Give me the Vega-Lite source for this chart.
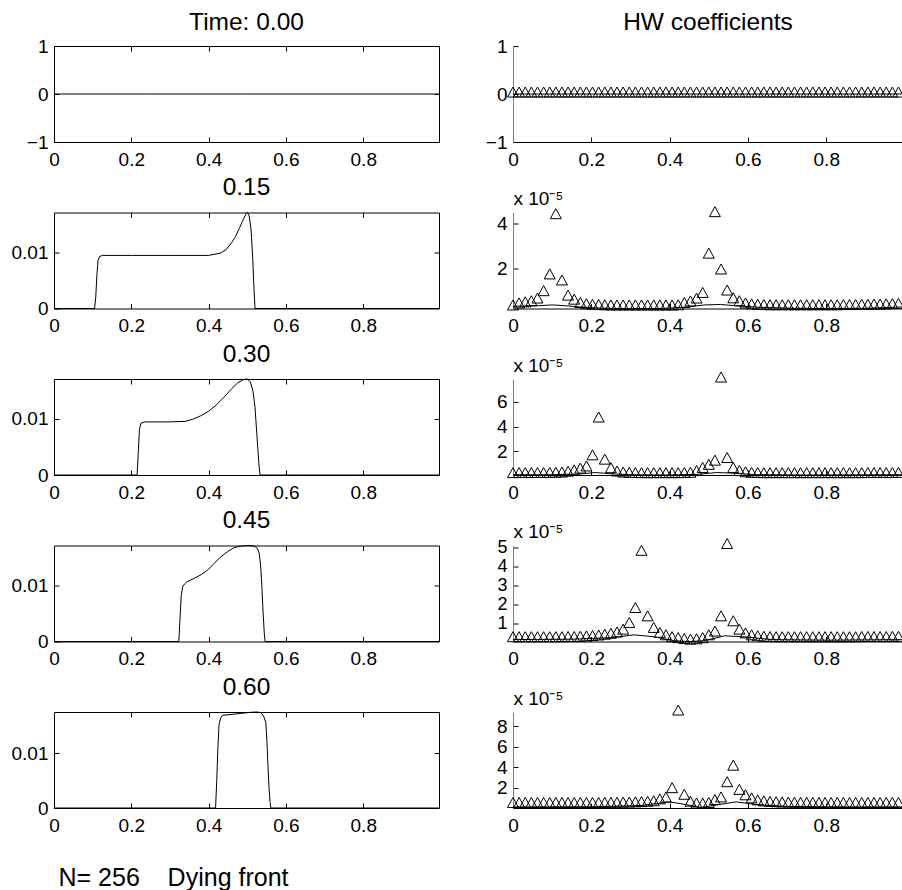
{
 "$schema": "https://vega.github.io/schema/vega-lite/v6.json",
 "padding": {"left": 10, "top": 9, "right": 0, "bottom": 0},
 "title": {"text": "N= 256\u00a0\u00a0\u00a0\u00a0Dying front", "orient": "bottom", "anchor": "start", "frame": "bounds", "fontSize": 25, "offset": 30, "dx": 48, "baseline": "top"},
 "datasets": {
  "u": [
   {"t":"0.00","x":0,"u":0},{"t":"0.00","x":0.25,"u":0},{"t":"0.00","x":0.5,"u":0},{"t":"0.00","x":0.75,"u":0},{"t":"0.00","x":0.996,"u":0},
   {"t":"0.15","x":0,"u":0},{"t":"0.15","x":0.105,"u":0},{"t":"0.15","x":0.108,"u":0.002},{"t":"0.15","x":0.111,"u":0.006},{"t":"0.15","x":0.114,"u":0.0085},{"t":"0.15","x":0.118,"u":0.0092},{"t":"0.15","x":0.125,"u":0.0094},{"t":"0.15","x":0.2,"u":0.0094},{"t":"0.15","x":0.3,"u":0.0094},{"t":"0.15","x":0.4,"u":0.0094},{"t":"0.15","x":0.43,"u":0.0098},{"t":"0.15","x":0.445,"u":0.0104},{"t":"0.15","x":0.46,"u":0.0117},{"t":"0.15","x":0.47,"u":0.0128},{"t":"0.15","x":0.48,"u":0.0143},{"t":"0.15","x":0.49,"u":0.0158},{"t":"0.15","x":0.497,"u":0.0168},{"t":"0.15","x":0.501,"u":0.017},{"t":"0.15","x":0.505,"u":0.0164},{"t":"0.15","x":0.51,"u":0.0138},{"t":"0.15","x":0.514,"u":0.009},{"t":"0.15","x":0.517,"u":0.004},{"t":"0.15","x":0.52,"u":0},{"t":"0.15","x":0.6,"u":0},{"t":"0.15","x":0.996,"u":0},
   {"t":"0.30","x":0,"u":0},{"t":"0.30","x":0.215,"u":0},{"t":"0.30","x":0.218,"u":0.004},{"t":"0.30","x":0.221,"u":0.008},{"t":"0.30","x":0.225,"u":0.0092},{"t":"0.30","x":0.235,"u":0.0094},{"t":"0.30","x":0.3,"u":0.0094},{"t":"0.30","x":0.34,"u":0.0095},{"t":"0.30","x":0.36,"u":0.0099},{"t":"0.30","x":0.38,"u":0.0105},{"t":"0.30","x":0.4,"u":0.0113},{"t":"0.30","x":0.42,"u":0.0124},{"t":"0.30","x":0.44,"u":0.0138},{"t":"0.30","x":0.46,"u":0.0153},{"t":"0.30","x":0.475,"u":0.0163},{"t":"0.30","x":0.49,"u":0.0169},{"t":"0.30","x":0.5,"u":0.017},{"t":"0.30","x":0.508,"u":0.0165},{"t":"0.30","x":0.515,"u":0.0148},{"t":"0.30","x":0.52,"u":0.012},{"t":"0.30","x":0.525,"u":0.007},{"t":"0.30","x":0.53,"u":0.002},{"t":"0.30","x":0.533,"u":0},{"t":"0.30","x":0.996,"u":0},
   {"t":"0.45","x":0,"u":0},{"t":"0.45","x":0.323,"u":0},{"t":"0.45","x":0.326,"u":0.004},{"t":"0.45","x":0.329,"u":0.008},{"t":"0.45","x":0.333,"u":0.0097},{"t":"0.45","x":0.338,"u":0.0102},{"t":"0.45","x":0.345,"u":0.0106},{"t":"0.45","x":0.36,"u":0.0111},{"t":"0.45","x":0.38,"u":0.0118},{"t":"0.45","x":0.4,"u":0.0128},{"t":"0.45","x":0.414,"u":0.0138},{"t":"0.45","x":0.43,"u":0.0149},{"t":"0.45","x":0.449,"u":0.0159},{"t":"0.45","x":0.465,"u":0.0166},{"t":"0.45","x":0.483,"u":0.0169},{"t":"0.45","x":0.5,"u":0.017},{"t":"0.45","x":0.518,"u":0.0169},{"t":"0.45","x":0.526,"u":0.0165},{"t":"0.45","x":0.531,"u":0.0156},{"t":"0.45","x":0.535,"u":0.013},{"t":"0.45","x":0.538,"u":0.0095},{"t":"0.45","x":0.541,"u":0.005},{"t":"0.45","x":0.544,"u":0.0015},{"t":"0.45","x":0.546,"u":0},{"t":"0.45","x":0.996,"u":0},
   {"t":"0.60","x":0,"u":0},{"t":"0.60","x":0.418,"u":0},{"t":"0.60","x":0.421,"u":0.005},{"t":"0.60","x":0.424,"u":0.011},{"t":"0.60","x":0.427,"u":0.0152},{"t":"0.60","x":0.431,"u":0.0164},{"t":"0.60","x":0.436,"u":0.0169},{"t":"0.60","x":0.45,"u":0.017},{"t":"0.60","x":0.466,"u":0.0171},{"t":"0.60","x":0.49,"u":0.0173},{"t":"0.60","x":0.509,"u":0.01745},{"t":"0.60","x":0.525,"u":0.0175},{"t":"0.60","x":0.535,"u":0.0174},{"t":"0.60","x":0.542,"u":0.0168},{"t":"0.60","x":0.548,"u":0.0156},{"t":"0.60","x":0.551,"u":0.012},{"t":"0.60","x":0.553,"u":0.0085},{"t":"0.60","x":0.556,"u":0.004},{"t":"0.60","x":0.559,"u":0.001},{"t":"0.60","x":0.561,"u":0},{"t":"0.60","x":0.996,"u":0}
  ],
  "hw": [
   {"x":0,"c0":0,"c15":0.27,"c30":0.13,"c45":0.2,"c60":0.35},
   {"x":0.0156,"c0":0,"c15":0.36,"c30":0.14,"c45":0.2,"c60":0.35},
   {"x":0.0313,"c0":0,"c15":0.41,"c30":0.14,"c45":0.2,"c60":0.35},
   {"x":0.0469,"c0":0,"c15":0.46,"c30":0.14,"c45":0.2,"c60":0.35},
   {"x":0.0625,"c0":0,"c15":0.58,"c30":0.14,"c45":0.2,"c60":0.35},
   {"x":0.0781,"c0":0,"c15":0.91,"c30":0.14,"c45":0.2,"c60":0.35},
   {"x":0.0938,"c0":0,"c15":1.66,"c30":0.15,"c45":0.2,"c60":0.35},
   {"x":0.1094,"c0":0,"c15":4.36,"c30":0.16,"c45":0.2,"c60":0.35},
   {"x":0.125,"c0":0,"c15":1.39,"c30":0.18,"c45":0.2,"c60":0.35},
   {"x":0.1406,"c0":0,"c15":0.71,"c30":0.25,"c45":0.21,"c60":0.35},
   {"x":0.1563,"c0":0,"c15":0.53,"c30":0.35,"c45":0.21,"c60":0.35},
   {"x":0.1719,"c0":0,"c15":0.38,"c30":0.5,"c45":0.22,"c60":0.35},
   {"x":0.1875,"c0":0,"c15":0.33,"c30":0.67,"c45":0.24,"c60":0.35},
   {"x":0.2031,"c0":0,"c15":0.3,"c30":1.57,"c45":0.26,"c60":0.35},
   {"x":0.2188,"c0":0,"c15":0.29,"c30":4.62,"c45":0.29,"c60":0.35},
   {"x":0.2344,"c0":0,"c15":0.28,"c30":1.22,"c45":0.33,"c60":0.36},
   {"x":0.25,"c0":0,"c15":0.27,"c30":0.53,"c45":0.38,"c60":0.36},
   {"x":0.2656,"c0":0,"c15":0.27,"c30":0.26,"c45":0.45,"c60":0.37},
   {"x":0.2813,"c0":0,"c15":0.27,"c30":0.18,"c45":0.6,"c60":0.38},
   {"x":0.2969,"c0":0,"c15":0.27,"c30":0.15,"c45":0.95,"c60":0.39},
   {"x":0.3125,"c0":0,"c15":0.27,"c30":0.14,"c45":1.74,"c60":0.41},
   {"x":0.3281,"c0":0,"c15":0.27,"c30":0.13,"c45":4.76,"c60":0.43},
   {"x":0.3438,"c0":0,"c15":0.27,"c30":0.13,"c45":1.3,"c60":0.47},
   {"x":0.3594,"c0":0,"c15":0.27,"c30":0.13,"c45":0.69,"c60":0.52},
   {"x":0.375,"c0":0,"c15":0.27,"c30":0.13,"c45":0.43,"c60":0.7},
   {"x":0.3906,"c0":0,"c15":0.27,"c30":0.13,"c45":0.3,"c60":0.87},
   {"x":0.4063,"c0":0,"c15":0.27,"c30":0.13,"c45":0.2,"c60":1.8},
   {"x":0.4219,"c0":0,"c15":0.28,"c30":0.13,"c45":0.15,"c60":9.4},
   {"x":0.4375,"c0":0,"c15":0.38,"c30":0.14,"c45":0.1,"c60":1.15},
   {"x":0.4531,"c0":0,"c15":0.45,"c30":0.16,"c45":0.07,"c60":0.47},
   {"x":0.4688,"c0":0,"c15":0.58,"c30":0.3,"c45":0.09,"c60":0.3},
   {"x":0.4844,"c0":0,"c15":0.83,"c30":0.55,"c45":0.15,"c60":0.28},
   {"x":0.5,"c0":0,"c15":2.59,"c30":0.8,"c45":0.3,"c60":0.35},
   {"x":0.5156,"c0":0,"c15":4.45,"c30":1.14,"c45":0.5,"c60":0.63},
   {"x":0.5313,"c0":0,"c15":1.88,"c30":7.85,"c45":1.3,"c60":0.89},
   {"x":0.5469,"c0":0,"c15":0.94,"c30":1.35,"c45":5.12,"c60":2.38},
   {"x":0.5625,"c0":0,"c15":0.59,"c30":0.55,"c45":1.04,"c60":4.0},
   {"x":0.5781,"c0":0,"c15":0.46,"c30":0.3,"c45":0.6,"c60":1.63},
   {"x":0.5938,"c0":0,"c15":0.36,"c30":0.2,"c45":0.4,"c60":1.1},
   {"x":0.6094,"c0":0,"c15":0.32,"c30":0.16,"c45":0.3,"c60":0.8},
   {"x":0.625,"c0":0,"c15":0.3,"c30":0.14,"c45":0.25,"c60":0.6},
   {"x":0.6406,"c0":0,"c15":0.29,"c30":0.13,"c45":0.22,"c60":0.5},
   {"x":0.6563,"c0":0,"c15":0.28,"c30":0.13,"c45":0.21,"c60":0.45},
   {"x":0.6719,"c0":0,"c15":0.28,"c30":0.13,"c45":0.2,"c60":0.42},
   {"x":0.6875,"c0":0,"c15":0.28,"c30":0.13,"c45":0.2,"c60":0.4},
   {"x":0.7031,"c0":0,"c15":0.28,"c30":0.13,"c45":0.2,"c60":0.38},
   {"x":0.7188,"c0":0,"c15":0.28,"c30":0.13,"c45":0.2,"c60":0.37},
   {"x":0.7344,"c0":0,"c15":0.28,"c30":0.13,"c45":0.2,"c60":0.36},
   {"x":0.75,"c0":0,"c15":0.28,"c30":0.13,"c45":0.2,"c60":0.36},
   {"x":0.7656,"c0":0,"c15":0.28,"c30":0.13,"c45":0.2,"c60":0.35},
   {"x":0.7813,"c0":0,"c15":0.28,"c30":0.13,"c45":0.2,"c60":0.35},
   {"x":0.7969,"c0":0,"c15":0.28,"c30":0.13,"c45":0.2,"c60":0.35},
   {"x":0.8125,"c0":0,"c15":0.28,"c30":0.13,"c45":0.2,"c60":0.35},
   {"x":0.8281,"c0":0,"c15":0.28,"c30":0.13,"c45":0.2,"c60":0.35},
   {"x":0.8438,"c0":0,"c15":0.29,"c30":0.13,"c45":0.2,"c60":0.35},
   {"x":0.8594,"c0":0,"c15":0.29,"c30":0.13,"c45":0.2,"c60":0.35},
   {"x":0.875,"c0":0,"c15":0.29,"c30":0.13,"c45":0.2,"c60":0.35},
   {"x":0.8906,"c0":0,"c15":0.3,"c30":0.13,"c45":0.21,"c60":0.35},
   {"x":0.9063,"c0":0,"c15":0.3,"c30":0.14,"c45":0.21,"c60":0.35},
   {"x":0.9219,"c0":0,"c15":0.31,"c30":0.14,"c45":0.21,"c60":0.35},
   {"x":0.9375,"c0":0,"c15":0.31,"c30":0.14,"c45":0.21,"c60":0.35},
   {"x":0.9531,"c0":0,"c15":0.32,"c30":0.14,"c45":0.21,"c60":0.36},
   {"x":0.9688,"c0":0,"c15":0.33,"c30":0.14,"c45":0.22,"c60":0.36},
   {"x":0.9844,"c0":0,"c15":0.34,"c30":0.15,"c45":0.22,"c60":0.36}
  ],
  "hwline": [
   {"t":"0.00","x":0,"c":0},{"t":"0.00","x":0.996,"c":0},
   {"t":"0.15","x":0,"c":0.3},{"t":"0.15","x":0.06,"c":0.32},{"t":"0.15","x":0.1,"c":0.36},{"t":"0.15","x":0.13,"c":0.33},{"t":"0.15","x":0.17,"c":0.27},{"t":"0.15","x":0.22,"c":0.22},{"t":"0.15","x":0.3,"c":0.19},{"t":"0.15","x":0.38,"c":0.2},{"t":"0.15","x":0.44,"c":0.26},{"t":"0.15","x":0.49,"c":0.36},{"t":"0.15","x":0.53,"c":0.38},{"t":"0.15","x":0.57,"c":0.32},{"t":"0.15","x":0.63,"c":0.25},{"t":"0.15","x":0.72,"c":0.21},{"t":"0.15","x":0.8,"c":0.2},{"t":"0.15","x":0.9,"c":0.21},{"t":"0.15","x":0.996,"c":0.27},
   {"t":"0.30","x":0,"c":0.12},{"t":"0.30","x":0.1,"c":0.12},{"t":"0.30","x":0.17,"c":0.18},{"t":"0.30","x":0.21,"c":0.3},{"t":"0.30","x":0.25,"c":0.2},{"t":"0.30","x":0.3,"c":0.12},{"t":"0.30","x":0.4,"c":0.1},{"t":"0.30","x":0.47,"c":0.15},{"t":"0.30","x":0.52,"c":0.3},{"t":"0.30","x":0.56,"c":0.25},{"t":"0.30","x":0.62,"c":0.13},{"t":"0.30","x":0.75,"c":0.1},{"t":"0.30","x":0.996,"c":0.12},
   {"t":"0.45","x":0,"c":0.15},{"t":"0.45","x":0.15,"c":0.17},{"t":"0.45","x":0.25,"c":0.25},{"t":"0.45","x":0.31,"c":0.4},{"t":"0.45","x":0.36,"c":0.3},{"t":"0.45","x":0.41,"c":0.1},{"t":"0.45","x":0.45,"c":0.04},{"t":"0.45","x":0.49,"c":0.1},{"t":"0.45","x":0.54,"c":0.35},{"t":"0.45","x":0.59,"c":0.3},{"t":"0.45","x":0.66,"c":0.15},{"t":"0.45","x":0.8,"c":0.12},{"t":"0.45","x":0.996,"c":0.15},
   {"t":"0.60","x":0,"c":0.1},{"t":"0.60","x":0.2,"c":0.12},{"t":"0.60","x":0.33,"c":0.25},{"t":"0.60","x":0.4,"c":0.6},{"t":"0.60","x":0.44,"c":0.35},{"t":"0.60","x":0.48,"c":0.05},{"t":"0.60","x":0.52,"c":0.3},{"t":"0.60","x":0.57,"c":0.6},{"t":"0.60","x":0.62,"c":0.35},{"t":"0.60","x":0.7,"c":0.15},{"t":"0.60","x":0.85,"c":0.1},{"t":"0.60","x":0.996,"c":0.1}
  ]
 },
 "columns": 2,
 "spacing": {"row": 4.5, "column": 43},
 "concat": [
  {"width": 385, "height": 96, "view": {"stroke": "black", "strokeWidth": 1}, "title": {"text": "Time: 0.00", "dy": 8},
   "data": {"name": "u"}, "transform": [{"filter": "datum.t == '0.00'"}],
   "layer": [
    {"mark": {"type": "line", "color": "black", "strokeWidth": 1},
     "encoding": {
      "x": {"field": "x", "type": "quantitative", "scale": {"domain": [0, 0.996], "nice": false, "zero": false}, "axis": {"orient": "bottom", "domain": false, "values": [0, 0.2, 0.4, 0.6, 0.8], "format": "~g", "title": null}},
      "y": {"field": "u", "type": "quantitative", "scale": {"domain": [-1, 1], "nice": false, "zero": false}, "axis": {"orient": "left", "domain": false, "values": [-1, 0, 1], "format": "~g", "title": null}}}},
    {"mark": {"type": "line", "strokeOpacity": 0},
     "encoding": {
      "x": {"field": "x", "type": "quantitative", "scale": {"domain": [0, 0.996], "nice": false, "zero": false}, "axis": {"orient": "top", "domain": false, "labels": false, "values": [0.2, 0.4, 0.6, 0.8], "title": null}},
      "y": {"field": "u", "type": "quantitative", "scale": {"domain": [-1, 1], "nice": false, "zero": false}, "axis": {"orient": "right", "domain": false, "labels": false, "values": [0], "title": null}}}}
   ],
   "resolve": {"axis": {"x": "independent", "y": "independent"}}
  },
  {"width": 390, "height": 96, "title": {"text": "HW coefficients", "dy": 8},
   "layer": [
    {"data": {"name": "hw"},
     "mark": {"type": "point", "shape": "M0,-1.27L1,0.55L-1,0.55Z", "size": 121, "filled": false, "color": "black", "strokeWidth": 1, "opacity": 1},
     "encoding": {
      "x": {"field": "x", "type": "quantitative", "scale": {"domain": [0, 0.996], "nice": false, "zero": false}, "axis": {"values": [0, 0.2, 0.4, 0.6, 0.8], "format": "~g", "title": null}},
      "y": {"field": "c0", "type": "quantitative", "scale": {"domain": [-1, 1], "nice": false, "zero": false}, "axis": {"values": [-1, 0, 1], "format": "~g", "domainColor": "#808080", "title": null}}}},
    {"data": {"name": "hwline"}, "transform": [{"filter": "datum.t == '0.00'"}],
     "mark": {"type": "line", "color": "black", "strokeWidth": 1},
     "encoding": {
      "x": {"field": "x", "type": "quantitative", "scale": {"domain": [0, 0.996], "nice": false, "zero": false}},
      "y": {"field": "c", "type": "quantitative", "scale": {"domain": [-1, 1], "nice": false, "zero": false}, "axis": {"values": [-1, 0, 1], "format": "~g", "domainColor": "#808080", "title": null}}}}
   ]
  },
  {"width": 385, "height": 96, "view": {"stroke": "black", "strokeWidth": 1}, "title": "0.15",
   "data": {"name": "u"}, "transform": [{"filter": "datum.t == '0.15'"}],
   "layer": [
    {"mark": {"type": "line", "color": "black", "strokeWidth": 1},
     "encoding": {
      "x": {"field": "x", "type": "quantitative", "scale": {"domain": [0, 0.996], "nice": false, "zero": false}, "axis": {"orient": "bottom", "domain": false, "values": [0, 0.2, 0.4, 0.6, 0.8], "format": "~g", "title": null}},
      "y": {"field": "u", "type": "quantitative", "scale": {"domain": [0, 0.017], "nice": false, "zero": false}, "axis": {"orient": "left", "domain": false, "values": [0, 0.01], "format": "~g", "title": null}}}},
    {"mark": {"type": "line", "strokeOpacity": 0},
     "encoding": {
      "x": {"field": "x", "type": "quantitative", "scale": {"domain": [0, 0.996], "nice": false, "zero": false}, "axis": {"orient": "top", "domain": false, "labels": false, "values": [0.2, 0.4, 0.6, 0.8], "title": null}},
      "y": {"field": "u", "type": "quantitative", "scale": {"domain": [0, 0.017], "nice": false, "zero": false}, "axis": {"orient": "right", "domain": false, "labels": false, "values": [0.01], "title": null}}}}
   ],
   "resolve": {"axis": {"x": "independent", "y": "independent"}}
  },
  {"width": 390, "height": 96,
   "layer": [
    {"data": {"name": "hw"},
     "mark": {"type": "point", "shape": "M0,-1.27L1,0.55L-1,0.55Z", "size": 121, "filled": false, "color": "black", "strokeWidth": 1, "opacity": 1},
     "encoding": {
      "x": {"field": "x", "type": "quantitative", "scale": {"domain": [0, 0.996], "nice": false, "zero": false}, "axis": {"values": [0, 0.2, 0.4, 0.6, 0.8], "format": "~g", "title": null}},
      "y": {"field": "c15", "type": "quantitative", "scale": {"domain": [0.2, 4.5], "nice": false, "zero": false}, "axis": {"values": [2, 4], "format": "~g", "domainColor": "#808080", "title": "x 10⁻⁵", "titleAngle": 0, "titleX": 0, "titleY": -8, "titleAlign": "left", "titleBaseline": "alphabetic", "titleFontSize": 19}}}},
    {"data": {"name": "hwline"}, "transform": [{"filter": "datum.t == '0.15'"}],
     "mark": {"type": "line", "color": "black", "strokeWidth": 1},
     "encoding": {
      "x": {"field": "x", "type": "quantitative", "scale": {"domain": [0, 0.996], "nice": false, "zero": false}},
      "y": {"field": "c", "type": "quantitative", "scale": {"domain": [0.2, 4.5], "nice": false, "zero": false}, "axis": {"values": [2, 4], "format": "~g", "domainColor": "#808080", "title": "x 10⁻⁵", "titleAngle": 0, "titleX": 0, "titleY": -8, "titleAlign": "left", "titleBaseline": "alphabetic", "titleFontSize": 19}}}}
   ]
  },
  {"width": 385, "height": 96, "view": {"stroke": "black", "strokeWidth": 1}, "title": "0.30",
   "data": {"name": "u"}, "transform": [{"filter": "datum.t == '0.30'"}],
   "layer": [
    {"mark": {"type": "line", "color": "black", "strokeWidth": 1},
     "encoding": {
      "x": {"field": "x", "type": "quantitative", "scale": {"domain": [0, 0.996], "nice": false, "zero": false}, "axis": {"orient": "bottom", "domain": false, "values": [0, 0.2, 0.4, 0.6, 0.8], "format": "~g", "title": null}},
      "y": {"field": "u", "type": "quantitative", "scale": {"domain": [0, 0.017], "nice": false, "zero": false}, "axis": {"orient": "left", "domain": false, "values": [0, 0.01], "format": "~g", "title": null}}}},
    {"mark": {"type": "line", "strokeOpacity": 0},
     "encoding": {
      "x": {"field": "x", "type": "quantitative", "scale": {"domain": [0, 0.996], "nice": false, "zero": false}, "axis": {"orient": "top", "domain": false, "labels": false, "values": [0.2, 0.4, 0.6, 0.8], "title": null}},
      "y": {"field": "u", "type": "quantitative", "scale": {"domain": [0, 0.017], "nice": false, "zero": false}, "axis": {"orient": "right", "domain": false, "labels": false, "values": [0.01], "title": null}}}}
   ],
   "resolve": {"axis": {"x": "independent", "y": "independent"}}
  },
  {"width": 390, "height": 96,
   "layer": [
    {"data": {"name": "hw"},
     "mark": {"type": "point", "shape": "M0,-1.27L1,0.55L-1,0.55Z", "size": 121, "filled": false, "color": "black", "strokeWidth": 1, "opacity": 1},
     "encoding": {
      "x": {"field": "x", "type": "quantitative", "scale": {"domain": [0, 0.996], "nice": false, "zero": false}, "axis": {"values": [0, 0.2, 0.4, 0.6, 0.8], "format": "~g", "title": null}},
      "y": {"field": "c30", "type": "quantitative", "scale": {"domain": [0.1, 7.85], "nice": false, "zero": false}, "axis": {"values": [2, 4, 6], "format": "~g", "domainColor": "#808080", "title": "x 10⁻⁵", "titleAngle": 0, "titleX": 0, "titleY": -8, "titleAlign": "left", "titleBaseline": "alphabetic", "titleFontSize": 19}}}},
    {"data": {"name": "hwline"}, "transform": [{"filter": "datum.t == '0.30'"}],
     "mark": {"type": "line", "color": "black", "strokeWidth": 1},
     "encoding": {
      "x": {"field": "x", "type": "quantitative", "scale": {"domain": [0, 0.996], "nice": false, "zero": false}},
      "y": {"field": "c", "type": "quantitative", "scale": {"domain": [0.1, 7.85], "nice": false, "zero": false}, "axis": {"values": [2, 4, 6], "format": "~g", "domainColor": "#808080", "title": "x 10⁻⁵", "titleAngle": 0, "titleX": 0, "titleY": -8, "titleAlign": "left", "titleBaseline": "alphabetic", "titleFontSize": 19}}}}
   ]
  },
  {"width": 385, "height": 96, "view": {"stroke": "black", "strokeWidth": 1}, "title": "0.45",
   "data": {"name": "u"}, "transform": [{"filter": "datum.t == '0.45'"}],
   "layer": [
    {"mark": {"type": "line", "color": "black", "strokeWidth": 1},
     "encoding": {
      "x": {"field": "x", "type": "quantitative", "scale": {"domain": [0, 0.996], "nice": false, "zero": false}, "axis": {"orient": "bottom", "domain": false, "values": [0, 0.2, 0.4, 0.6, 0.8], "format": "~g", "title": null}},
      "y": {"field": "u", "type": "quantitative", "scale": {"domain": [0, 0.017], "nice": false, "zero": false}, "axis": {"orient": "left", "domain": false, "values": [0, 0.01], "format": "~g", "title": null}}}},
    {"mark": {"type": "line", "strokeOpacity": 0},
     "encoding": {
      "x": {"field": "x", "type": "quantitative", "scale": {"domain": [0, 0.996], "nice": false, "zero": false}, "axis": {"orient": "top", "domain": false, "labels": false, "values": [0.2, 0.4, 0.6, 0.8], "title": null}},
      "y": {"field": "u", "type": "quantitative", "scale": {"domain": [0, 0.017], "nice": false, "zero": false}, "axis": {"orient": "right", "domain": false, "labels": false, "values": [0.01], "title": null}}}}
   ],
   "resolve": {"axis": {"x": "independent", "y": "independent"}}
  },
  {"width": 390, "height": 96,
   "layer": [
    {"data": {"name": "hw"},
     "mark": {"type": "point", "shape": "M0,-1.27L1,0.55L-1,0.55Z", "size": 121, "filled": false, "color": "black", "strokeWidth": 1, "opacity": 1},
     "encoding": {
      "x": {"field": "x", "type": "quantitative", "scale": {"domain": [0, 0.996], "nice": false, "zero": false}, "axis": {"values": [0, 0.2, 0.4, 0.6, 0.8], "format": "~g", "title": null}},
      "y": {"field": "c45", "type": "quantitative", "scale": {"domain": [0.05, 5.12], "nice": false, "zero": false}, "axis": {"values": [1, 2, 3, 4, 5], "format": "~g", "labelFontSize": 18, "domainColor": "#808080", "title": "x 10⁻⁵", "titleAngle": 0, "titleX": 0, "titleY": -8, "titleAlign": "left", "titleBaseline": "alphabetic", "titleFontSize": 19}}}},
    {"data": {"name": "hwline"}, "transform": [{"filter": "datum.t == '0.45'"}],
     "mark": {"type": "line", "color": "black", "strokeWidth": 1},
     "encoding": {
      "x": {"field": "x", "type": "quantitative", "scale": {"domain": [0, 0.996], "nice": false, "zero": false}},
      "y": {"field": "c", "type": "quantitative", "scale": {"domain": [0.05, 5.12], "nice": false, "zero": false}, "axis": {"values": [1, 2, 3, 4, 5], "format": "~g", "labelFontSize": 18, "domainColor": "#808080", "title": "x 10⁻⁵", "titleAngle": 0, "titleX": 0, "titleY": -8, "titleAlign": "left", "titleBaseline": "alphabetic", "titleFontSize": 19}}}}
   ]
  },
  {"width": 385, "height": 96, "view": {"stroke": "black", "strokeWidth": 1}, "title": "0.60",
   "data": {"name": "u"}, "transform": [{"filter": "datum.t == '0.60'"}],
   "layer": [
    {"mark": {"type": "line", "color": "black", "strokeWidth": 1},
     "encoding": {
      "x": {"field": "x", "type": "quantitative", "scale": {"domain": [0, 0.996], "nice": false, "zero": false}, "axis": {"orient": "bottom", "domain": false, "values": [0, 0.2, 0.4, 0.6, 0.8], "format": "~g", "title": null}},
      "y": {"field": "u", "type": "quantitative", "scale": {"domain": [0, 0.0175], "nice": false, "zero": false}, "axis": {"orient": "left", "domain": false, "values": [0, 0.01], "format": "~g", "title": null}}}},
    {"mark": {"type": "line", "strokeOpacity": 0},
     "encoding": {
      "x": {"field": "x", "type": "quantitative", "scale": {"domain": [0, 0.996], "nice": false, "zero": false}, "axis": {"orient": "top", "domain": false, "labels": false, "values": [0.2, 0.4, 0.6, 0.8], "title": null}},
      "y": {"field": "u", "type": "quantitative", "scale": {"domain": [0, 0.0175], "nice": false, "zero": false}, "axis": {"orient": "right", "domain": false, "labels": false, "values": [0.01], "title": null}}}}
   ],
   "resolve": {"axis": {"x": "independent", "y": "independent"}}
  },
  {"width": 390, "height": 96,
   "layer": [
    {"data": {"name": "hw"},
     "mark": {"type": "point", "shape": "M0,-1.27L1,0.55L-1,0.55Z", "size": 121, "filled": false, "color": "black", "strokeWidth": 1, "opacity": 1},
     "encoding": {
      "x": {"field": "x", "type": "quantitative", "scale": {"domain": [0, 0.996], "nice": false, "zero": false}, "axis": {"values": [0, 0.2, 0.4, 0.6, 0.8], "format": "~g", "title": null}},
      "y": {"field": "c60", "type": "quantitative", "scale": {"domain": [0, 9.4], "nice": false, "zero": false}, "axis": {"values": [2, 4, 6, 8], "format": "~g", "domainColor": "#808080", "title": "x 10⁻⁵", "titleAngle": 0, "titleX": 0, "titleY": -8, "titleAlign": "left", "titleBaseline": "alphabetic", "titleFontSize": 19}}}},
    {"data": {"name": "hwline"}, "transform": [{"filter": "datum.t == '0.60'"}],
     "mark": {"type": "line", "color": "black", "strokeWidth": 1},
     "encoding": {
      "x": {"field": "x", "type": "quantitative", "scale": {"domain": [0, 0.996], "nice": false, "zero": false}},
      "y": {"field": "c", "type": "quantitative", "scale": {"domain": [0, 9.4], "nice": false, "zero": false}, "axis": {"values": [2, 4, 6, 8], "format": "~g", "domainColor": "#808080", "title": "x 10⁻⁵", "titleAngle": 0, "titleX": 0, "titleY": -8, "titleAlign": "left", "titleBaseline": "alphabetic", "titleFontSize": 19}}}}
   ]
  }
 ],
 "config": {
  "font": "Liberation Sans",
  "view": {"stroke": null},
  "axis": {"labelFont": "Liberation Sans", "labelFontSize": 19, "labelColor": "black", "tickColor": "black", "domainColor": "black", "tickSize": -5, "labelPadding": 11, "grid": false, "titleFont": "Liberation Sans", "titleFontWeight": "normal", "titleColor": "black", "labelFlush": false, "labelOverlap": false, "labelBound": false, "minExtent": 0},
  "axisX": {"labelPadding": 13},
  "title": {"font": "Liberation Sans", "fontSize": 24.5, "fontWeight": "normal", "color": "black", "offset": 10, "baseline": "alphabetic", "frame": "group", "anchor": "middle"}
 }
}
